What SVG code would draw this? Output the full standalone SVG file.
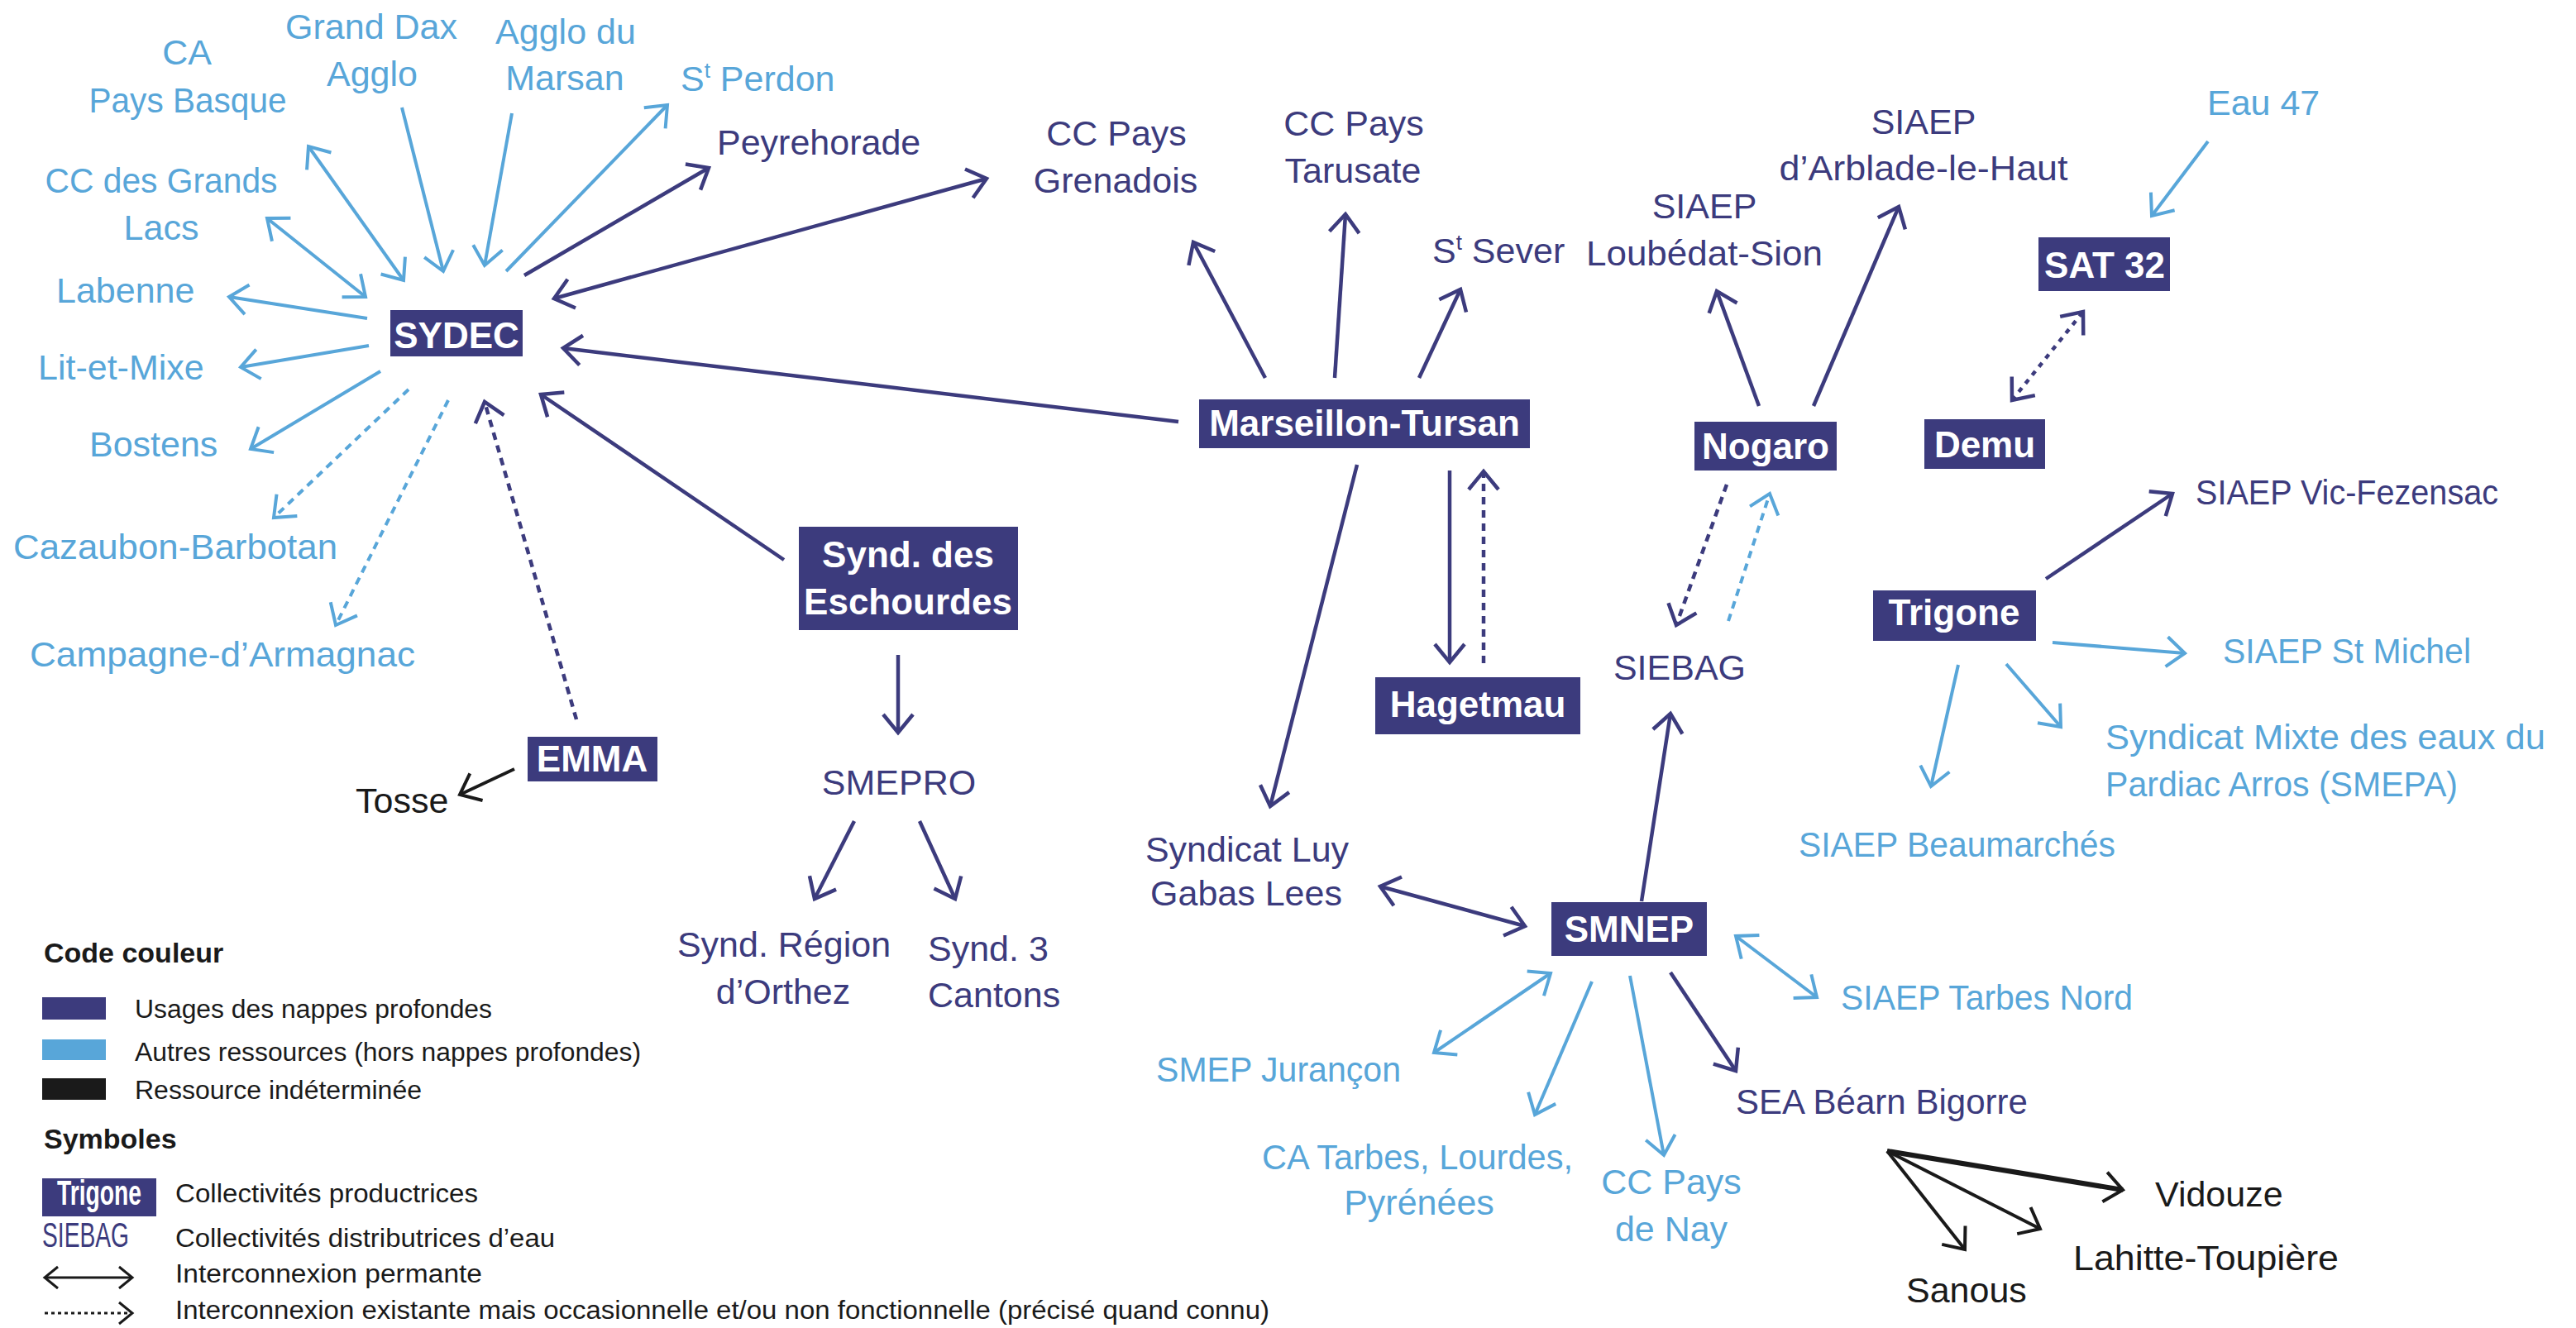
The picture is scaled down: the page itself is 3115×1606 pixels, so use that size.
<svg xmlns="http://www.w3.org/2000/svg" width="3115" height="1606" viewBox="0 0 3115 1606">
<style>
text{font-family:"Liberation Sans",Arial,sans-serif;font-size:43px}
.n{fill:#3c3b7d}
.l{fill:#58a6d9}
.k{fill:#1a1a1a}
.m{text-anchor:middle}
.bx{fill:#3c3b7d}
.bt{fill:#fff;font-weight:bold;font-size:44px;text-anchor:middle}
.lg{font-size:31px;fill:#1a1a1a}
.lh{font-size:34px;font-weight:bold;fill:#1a1a1a}
.c{fill:none;stroke-linecap:butt}
.cn{stroke:#3c3b7d;stroke-width:4.5}
.cl{stroke:#58a6d9;stroke-width:4}
.ck{stroke:#1a1a1a;stroke-width:4}
.d{stroke-dasharray:9 7}
.e{marker-end:url(#an)}
.el{marker-end:url(#al)}
.ek{marker-end:url(#ak)}
.bn{marker-start:url(#an);marker-end:url(#an)}
.bl{marker-start:url(#al);marker-end:url(#al)}
.sup{font-size:26px}
</style>
<defs>
<marker id="an" viewBox="0 0 40 40" refX="34" refY="20" markerWidth="40" markerHeight="40" markerUnits="userSpaceOnUse" orient="auto-start-reverse" overflow="visible"><path d="M12,2 L34,20 L12,38" fill="none" stroke="#3c3b7d" stroke-width="4.5"/></marker>
<marker id="al" viewBox="0 0 40 40" refX="34" refY="20" markerWidth="40" markerHeight="40" markerUnits="userSpaceOnUse" orient="auto-start-reverse" overflow="visible"><path d="M12,2 L34,20 L12,38" fill="none" stroke="#58a6d9" stroke-width="4"/></marker>
<marker id="ak" viewBox="0 0 40 40" refX="34" refY="20" markerWidth="40" markerHeight="40" markerUnits="userSpaceOnUse" orient="auto-start-reverse" overflow="visible"><path d="M12,2 L34,20 L12,38" fill="none" stroke="#1a1a1a" stroke-width="4"/></marker>
<marker id="ak2" viewBox="0 0 30 30" refX="26" refY="15" markerWidth="30" markerHeight="30" markerUnits="userSpaceOnUse" orient="auto-start-reverse" overflow="visible"><path d="M10,2 L26,15 L10,28" fill="none" stroke="#1a1a1a" stroke-width="3"/></marker>
</defs>
<rect width="3115" height="1606" fill="#fff"/>

<g id="connectors">
<line class="c cn bn" x1="670" y1="361" x2="1193" y2="216"/>
<line class="c cn e" x1="634" y1="333" x2="857" y2="203"/>
<line class="c cn e" x1="1425" y1="510" x2="681" y2="421"/>
<line class="c cn e" x1="948" y1="677" x2="654" y2="477"/>
<line class="c cn e" x1="1086" y1="792" x2="1086" y2="886"/>
<line class="c cn e" x1="1033" y1="993" x2="985" y2="1087"/>
<line class="c cn e" x1="1112" y1="993" x2="1155" y2="1087"/>
<line class="c cn e" x1="1530" y1="457" x2="1443" y2="293"/>
<line class="c cn e" x1="1614" y1="457" x2="1627" y2="259"/>
<line class="c cn e" x1="1716" y1="457" x2="1766" y2="350"/>
<line class="c cn e" x1="1641" y1="562" x2="1536" y2="975"/>
<line class="c cn e" x1="1753" y1="569" x2="1753" y2="801"/>
<line class="c cn e" x1="2127" y1="491" x2="2076" y2="352"/>
<line class="c cn e" x1="2193" y1="491" x2="2296" y2="250"/>
<line class="c cn e" x1="1985" y1="1090" x2="2020" y2="863"/>
<line class="c cn bn" x1="1669" y1="1072" x2="1844" y2="1120"/>
<line class="c cn e" x1="2020" y1="1176" x2="2099" y2="1295"/>
<line class="c cn e" x1="2474" y1="700" x2="2627" y2="597"/>
<line class="c cn d e" x1="697" y1="870" x2="586" y2="486"/>
<line class="c cn d e" x1="1794" y1="802" x2="1794" y2="570"/>
<line class="c cn d e" x1="2088" y1="586" x2="2027" y2="756"/>
<line class="c cn bn" style="stroke-dasharray:6 7" x1="2433" y1="484" x2="2519" y2="377"/>
<line class="c cl el" x1="612" y1="328" x2="807" y2="127"/>
<line class="c cl el" x1="619" y1="137" x2="586" y2="321"/>
<line class="c cl el" x1="486" y1="130" x2="536" y2="328"/>
<line class="c cl bl" x1="373" y1="177" x2="488" y2="339"/>
<line class="c cl bl" x1="323" y1="264" x2="442" y2="359"/>
<line class="c cl el" x1="444" y1="385" x2="277" y2="359"/>
<line class="c cl el" x1="446" y1="418" x2="291" y2="444"/>
<line class="c cl el" x1="460" y1="449" x2="303" y2="543"/>
<line class="c cl el" x1="2670" y1="171" x2="2602" y2="261"/>
<line class="c cl el" x1="2482" y1="777" x2="2642" y2="790"/>
<line class="c cl el" x1="2426" y1="803" x2="2492" y2="879"/>
<line class="c cl el" x1="2368" y1="804" x2="2335" y2="951"/>
<line class="c cl bl" x1="2099" y1="1132" x2="2197" y2="1206"/>
<line class="c cl bl" x1="1875" y1="1177" x2="1734" y2="1273"/>
<line class="c cl el" x1="1925" y1="1187" x2="1856" y2="1348"/>
<line class="c cl el" x1="1971" y1="1180" x2="2012" y2="1397"/>
<line class="c cl d el" x1="494" y1="471" x2="331" y2="626"/>
<line class="c cl d el" x1="542" y1="484" x2="406" y2="756"/>
<line class="c cl d el" x1="2090" y1="751" x2="2140" y2="597"/>
<line class="c ck ek" x1="622" y1="930" x2="556" y2="961"/>
<line class="c ck ek" style="stroke-width:6" x1="2282" y1="1392" x2="2567" y2="1439"/>
<line class="c ck ek" x1="2282" y1="1392" x2="2467" y2="1486"/>
<line class="c ck ek" x1="2282" y1="1392" x2="2376" y2="1511"/>
</g>

<g id="n-sydec"><rect class="bx" x="472" y="375" width="160" height="56"/><text class="bt" x="552" y="421">SYDEC</text></g>
<g id="n-marseillon"><rect class="bx" x="1450" y="483" width="400" height="59"/><text class="bt" x="1650" y="527">Marseillon-Tursan</text></g>
<g id="n-nogaro"><rect class="bx" x="2049" y="510" width="172" height="59"/><text class="bt" x="2135" y="555">Nogaro</text></g>
<g id="n-demu"><rect class="bx" x="2327" y="507" width="146" height="60"/><text class="bt" x="2400" y="553">Demu</text></g>
<g id="n-sat32"><rect class="bx" x="2465" y="287" width="159" height="65"/><text class="bt" x="2545" y="336">SAT 32</text></g>
<g id="n-hagetmau"><rect class="bx" x="1663" y="819" width="248" height="69"/><text class="bt" x="1787" y="867">Hagetmau</text></g>
<g id="n-eschourdes"><rect class="bx" x="966" y="637" width="265" height="125"/><text class="bt" x="1098" y="686">Synd. des</text><text class="bt" x="1098" y="743">Eschourdes</text></g>
<g id="n-emma"><rect class="bx" x="638" y="891" width="157" height="54"/><text class="bt" x="716" y="933">EMMA</text></g>
<g id="n-trigone"><rect class="bx" x="2265" y="714" width="197" height="61"/><text class="bt" x="2363" y="756">Trigone</text></g>
<g id="n-smnep"><rect class="bx" x="1876" y="1091" width="188" height="65"/><text class="bt" x="1970" y="1139">SMNEP</text></g>

<g id="n-ca-pb"><text class="l m" x="226" y="78">CA</text><text class="l m" x="227" y="136" textLength="239" lengthAdjust="spacingAndGlyphs">Pays Basque</text></g>
<g id="n-granddax"><text class="l m" x="449" y="47">Grand Dax</text><text class="l m" x="450" y="104">Agglo</text></g>
<g id="n-marsan"><text class="l m" x="684" y="53">Agglo du</text><text class="l m" x="683" y="109">Marsan</text></g>
<g id="n-stperdon"><text class="l" x="823" y="110">S<tspan class="sup" dy="-16">t</tspan><tspan dy="16"> Perdon</tspan></text></g>
<g id="n-grandslacs"><text class="l m" x="195" y="233" textLength="281" lengthAdjust="spacingAndGlyphs">CC des Grands</text><text class="l m" x="195" y="290">Lacs</text></g>
<g id="n-labenne"><text class="l" x="68" y="366">Labenne</text></g>
<g id="n-litetmixe"><text class="l" x="46" y="459">Lit-et-Mixe</text></g>
<g id="n-bostens"><text class="l" x="108" y="552">Bostens</text></g>
<g id="n-cazaubon"><text class="l" x="16" y="676" textLength="392" lengthAdjust="spacingAndGlyphs">Cazaubon-Barbotan</text></g>
<g id="n-campagne"><text class="l" x="36" y="806" textLength="466" lengthAdjust="spacingAndGlyphs">Campagne-d’Armagnac</text></g>
<g id="n-eau47"><text class="l" x="2669" y="139">Eau 47</text></g>
<g id="n-stmichel"><text class="l" x="2688" y="802" textLength="300" lengthAdjust="spacingAndGlyphs">SIAEP St Michel</text></g>
<g id="n-smepa"><text class="l" x="2546" y="906" textLength="532" lengthAdjust="spacingAndGlyphs">Syndicat Mixte des eaux du</text><text class="l" x="2546" y="963" textLength="426" lengthAdjust="spacingAndGlyphs">Pardiac Arros (SMEPA)</text></g>
<g id="n-beaumarches"><text class="l" x="2175" y="1036" textLength="383" lengthAdjust="spacingAndGlyphs">SIAEP Beaumarchés</text></g>
<g id="n-tarbesnord"><text class="l" x="2226" y="1221" textLength="353" lengthAdjust="spacingAndGlyphs">SIAEP Tarbes Nord</text></g>
<g id="n-jurancon"><text class="l" x="1398" y="1308" textLength="296" lengthAdjust="spacingAndGlyphs">SMEP Jurançon</text></g>
<g id="n-catarbes"><text class="l m" x="1714" y="1414" textLength="376" lengthAdjust="spacingAndGlyphs">CA Tarbes, Lourdes,</text><text class="l m" x="1716" y="1469">Pyrénées</text></g>
<g id="n-nay"><text class="l m" x="2021" y="1444">CC Pays</text><text class="l m" x="2021" y="1501">de Nay</text></g>

<g id="n-peyrehorade"><text class="n" x="867" y="187">Peyrehorade</text></g>
<g id="n-grenadois"><text class="n m" x="1350" y="176">CC Pays</text><text class="n m" x="1349" y="233">Grenadois</text></g>
<g id="n-tarusate"><text class="n m" x="1637" y="164">CC Pays</text><text class="n m" x="1636" y="221">Tarusate</text></g>
<g id="n-stsever"><text class="n" x="1732" y="318">S<tspan class="sup" dy="-16">t</tspan><tspan dy="16"> Sever</tspan></text></g>
<g id="n-loubedat"><text class="n m" x="2061" y="264">SIAEP</text><text class="n m" x="2061" y="321" textLength="286" lengthAdjust="spacingAndGlyphs">Loubédat-Sion</text></g>
<g id="n-arblade"><text class="n m" x="2326" y="162">SIAEP</text><text class="n m" x="2326" y="218" textLength="349" lengthAdjust="spacingAndGlyphs">d’Arblade-le-Haut</text></g>
<g id="n-vic"><text class="n" x="2655" y="610" textLength="366" lengthAdjust="spacingAndGlyphs">SIAEP Vic-Fezensac</text></g>
<g id="n-siebag"><text class="n m" x="2031" y="822">SIEBAG</text></g>
<g id="n-smepro"><text class="n m" x="1087" y="961">SMEPRO</text></g>
<g id="n-orthez"><text class="n m" x="948" y="1157">Synd. Région</text><text class="n m" x="947" y="1214">d’Orthez</text></g>
<g id="n-3cantons"><text class="n" x="1122" y="1162">Synd. 3</text><text class="n" x="1122" y="1218">Cantons</text></g>
<g id="n-luy"><text class="n m" x="1508" y="1042">Syndicat Luy</text><text class="n m" x="1507" y="1095">Gabas Lees</text></g>
<g id="n-sea"><text class="n" x="2099" y="1347" textLength="353" lengthAdjust="spacingAndGlyphs">SEA Béarn Bigorre</text></g>

<g id="n-tosse"><text class="k" x="430" y="983">Tosse</text></g>
<g id="n-vidouze"><text class="k" x="2606" y="1459">Vidouze</text></g>
<g id="n-lahitte"><text class="k" x="2507" y="1536" textLength="321" lengthAdjust="spacingAndGlyphs">Lahitte-Toupière</text></g>
<g id="n-sanous"><text class="k" x="2305" y="1575">Sanous</text></g>

<g id="legend">
<text class="lh" x="53" y="1164">Code couleur</text>
<rect x="51" y="1206" width="77" height="27" fill="#3c3b7d"/>
<text class="lg" x="163" y="1231" textLength="432" lengthAdjust="spacingAndGlyphs">Usages des nappes profondes</text>
<rect x="51" y="1257" width="77" height="25" fill="#58a6d9"/>
<text class="lg" x="163" y="1283" textLength="612" lengthAdjust="spacingAndGlyphs">Autres ressources (hors nappes profondes)</text>
<rect x="51" y="1304" width="77" height="26" fill="#1a1a1a"/>
<text class="lg" x="163" y="1329" textLength="347" lengthAdjust="spacingAndGlyphs">Ressource indéterminée</text>
<text class="lh" x="53" y="1389">Symboles</text>
<rect x="51" y="1425" width="138" height="46" fill="#3c3b7d"/>
<text x="120" y="1457" fill="#fff" font-weight="bold" font-size="28" text-anchor="middle" textLength="102" lengthAdjust="spacingAndGlyphs">Trigone</text>
<text class="lg" x="212" y="1454" textLength="366" lengthAdjust="spacingAndGlyphs">Collectivités productrices</text>
<text class="n" x="51" y="1508" font-size="31" textLength="105" lengthAdjust="spacingAndGlyphs">SIEBAG</text>
<text class="lg" x="212" y="1508" textLength="459" lengthAdjust="spacingAndGlyphs">Collectivités distributrices d’eau</text>
<line x1="54" y1="1545" x2="160" y2="1545" stroke="#1a1a1a" stroke-width="3" marker-start="url(#ak2)" marker-end="url(#ak2)"/>
<text class="lg" x="212" y="1551" textLength="371" lengthAdjust="spacingAndGlyphs">Interconnexion permante</text>
<line x1="54" y1="1588" x2="160" y2="1588" stroke="#1a1a1a" stroke-width="3" stroke-dasharray="4 4" marker-end="url(#ak2)"/>
<text class="lg" x="212" y="1595" textLength="1323" lengthAdjust="spacingAndGlyphs">Interconnexion existante mais occasionnelle et/ou non fonctionnelle (précisé quand connu)</text>
</g>
</svg>
